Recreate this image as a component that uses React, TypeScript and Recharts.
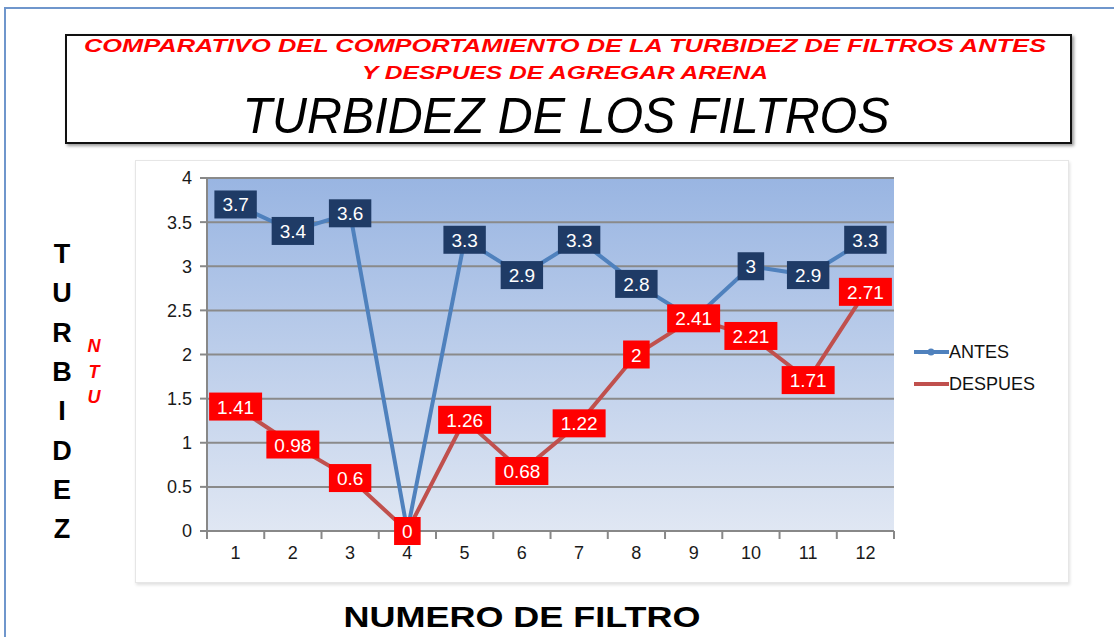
import React from 'react';
import { LineChart, Line, XAxis, YAxis, CartesianGrid, LabelList } from 'recharts';

const categories = ['1', '2', '3', '4', '5', '6', '7', '8', '9', '10', '11', '12'];
const antes = [3.7, 3.4, 3.6, 0, 3.3, 2.9, 3.3, 2.8, 2.4, 3, 2.9, 3.3];
const despues = [1.41, 0.98, 0.6, 0, 1.26, 0.68, 1.22, 2, 2.41, 2.21, 1.71, 2.71];
const yTicks = [0, 0.5, 1, 1.5, 2, 2.5, 3, 3.5, 4];
const yTitleLetters = ['T', 'U', 'R', 'B', 'I', 'D', 'E', 'Z'];
const unitLetters = ['N', 'T', 'U'];
const subtitle1 = 'COMPARATIVO  DEL  COMPORTAMIENTO  DE LA TURBIDEZ  DE FILTROS ANTES';
const subtitle2 = 'Y DESPUES  DE  AGREGAR  ARENA';
const mainTitle = 'TURBIDEZ DE LOS FILTROS';
const xTitle = 'NUMERO DE FILTRO';
const seriesNames = ['ANTES', 'DESPUES'];

const data = categories.map((c, i) => ({ filtro: c, ANTES: antes[i], DESPUES: despues[i] }));

const FONT = '"Liberation Sans", Arial, sans-serif';
const BLUE = '#4F81BD';
const RED = '#C0504D';
const BAND_HALF = 28.6;

const makeLabel = (bg: string, hideUnder?: number[]) => (props: any) => {
  const { x, y, value, index } = props;
  if (x == null || y == null) return null;
  // labels hidden under the other series' label (as in the reference)
  if (hideUnder && Math.abs(hideUnder[index] - value) < 0.1) return null;
  const s = String(value);
  const fs = 19;
  let w = 0;
  for (const ch of s) w += ch === '.' ? 0.278 * fs : 0.556 * fs;
  const bw = w + 16;
  const bh = 28;
  return (
    <g>
      <rect x={x - bw / 2} y={y - bh / 2} width={bw} height={bh} fill={bg} />
      <text x={x} y={y + 7} textAnchor="middle" fill="#fff" fontSize={fs} fontFamily={FONT}>
        {s}
      </text>
    </g>
  );
};

const XTick = (props: any) => {
  const { x, y, payload, index } = props;
  const top = y - 8;
  return (
    <g>
      <line x1={x - BAND_HALF} x2={x - BAND_HALF} y1={top} y2={top + 8} stroke="#888" strokeWidth={2} />
      {index === categories.length - 1 && (
        <line x1={x + BAND_HALF} x2={x + BAND_HALF} y1={top} y2={top + 8} stroke="#888" strokeWidth={2} />
      )}
      <text x={x} y={y + 20} textAnchor="middle" fontSize={18} fill="#1a1a1a" fontFamily={FONT}>
        {payload.value}
      </text>
    </g>
  );
};

export default function App() {
  const legendItems = [
    { name: seriesNames[0], color: BLUE, marker: true },
    { name: seriesNames[1], color: RED, marker: false },
  ];
  return (
    <div style={{ position: 'absolute', left: 0, top: 0, width: 1114, height: 637, background: '#fff', overflow: 'hidden', fontFamily: FONT }}>
      {/* page frame */}
      <div style={{ position: 'absolute', left: 4, top: 7, width: 1114, height: 640, borderLeft: '2px solid #6F96CC', borderTop: '2px solid #6F96CC' }} />
      {/* title box */}
      <div style={{ position: 'absolute', left: 65, top: 34, width: 1003, height: 106, border: '2px solid #111', boxShadow: '2px 2px 3px #999' }} />
      {/* chart panel */}
      <div style={{ position: 'absolute', left: 135, top: 160, width: 932, height: 421, border: '1px solid #e6e6e6', boxShadow: '1px 2px 3px #e0e0e0' }} />

      <svg width={1114} height={637} style={{ position: 'absolute', left: 0, top: 0 }}>
        <text x={565} y={52} textAnchor="middle" fill="#FF0000" fontSize={19} fontStyle="italic" fontWeight="bold" textLength={962} lengthAdjust="spacingAndGlyphs">
          {subtitle1}
        </text>
        <text x={565} y={79} textAnchor="middle" fill="#FF0000" fontSize={19} fontStyle="italic" fontWeight="bold" textLength={406} lengthAdjust="spacingAndGlyphs">
          {subtitle2}
        </text>
        <text x={566} y={133} textAnchor="middle" fill="#000" fontSize={50} fontStyle="italic" textLength={647} lengthAdjust="spacingAndGlyphs">
          {mainTitle}
        </text>
        {yTitleLetters.map((l, i) => (
          <text key={i} x={62} y={263 + i * 39.3} textAnchor="middle" fontSize={27} fontWeight="bold" fill="#000">
            {l}
          </text>
        ))}
        {unitLetters.map((l, i) => (
          <text key={'u' + i} x={94} y={352 + i * 25.5} textAnchor="middle" fontSize={18} fontWeight="bold" fontStyle="italic" fill="#FF0000">
            {l}
          </text>
        ))}
        <text x={522} y={627} textAnchor="middle" fontSize={30} fontWeight="bold" fill="#000" textLength={357} lengthAdjust="spacingAndGlyphs">
          {xTitle}
        </text>
      </svg>

      {/* legend */}
      <div style={{ position: 'absolute', left: 913, top: 336, fontSize: 18, color: '#111' }}>
        {legendItems.map((it) => (
          <div key={it.name} style={{ display: 'flex', alignItems: 'center', height: 32 }}>
            <svg width={36} height={12} style={{ display: 'block' }}>
              <line x1={1} x2={36} y1={6} y2={6} stroke={it.color} strokeWidth={4} />
              {it.marker && <circle cx={18} cy={6} r={3.5} fill={it.color} />}
            </svg>
            <span>{it.name}</span>
          </div>
        ))}
      </div>

      <div style={{ position: 'absolute', left: 135, top: 160 }}>
        <LineChart width={933} height={422} data={data} margin={{ top: 18, right: 174, bottom: 21, left: 32 }}>
          <defs>
            <linearGradient id="plotGrad" x1="0" y1="0" x2="0" y2="1">
              <stop offset="0%" stopColor="#99B5E2" />
              <stop offset="100%" stopColor="#E0E7F3" />
            </linearGradient>
          </defs>
          <CartesianGrid vertical={false} fill="url(#plotGrad)" fillOpacity={1} stroke="#8a8a8a" strokeWidth={2} />
          <XAxis
            dataKey="filtro"
            padding={{ left: BAND_HALF, right: BAND_HALF }}
            axisLine={{ stroke: '#888', strokeWidth: 2 }}
            tickLine={false}
            tickSize={8}
            tickMargin={0}
            height={30}
            interval={0}
            tick={<XTick />}
          />
          <YAxis
            domain={[0, 4]}
            ticks={yTicks}
            width={40}
            axisLine={{ stroke: '#888', strokeWidth: 2 }}
            tickLine={{ stroke: '#888', strokeWidth: 2 }}
            tickSize={7}
            tickMargin={8}
            tick={{ fontSize: 18, fill: '#1a1a1a', fontFamily: FONT }}
          />
          <Line
            type="linear"
            dataKey="ANTES"
            stroke={BLUE}
            strokeWidth={4}
            dot={false}
            activeDot={false}
            isAnimationActive={false}
          >
            <LabelList dataKey="ANTES" content={makeLabel('#1F3B66', despues)} />
          </Line>
          <Line
            type="linear"
            dataKey="DESPUES"
            stroke={RED}
            strokeWidth={4}
            dot={false}
            activeDot={false}
            isAnimationActive={false}
          >
            <LabelList dataKey="DESPUES" content={makeLabel('#FF0000')} />
          </Line>
        </LineChart>
      </div>
    </div>
  );
}
